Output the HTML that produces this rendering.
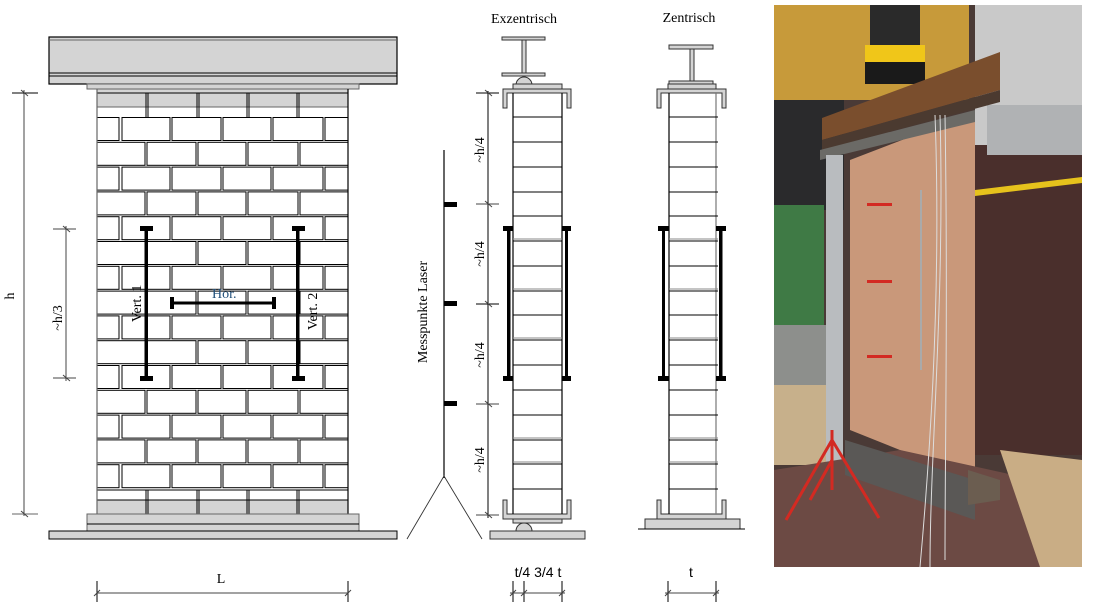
<!DOCTYPE html>
<html><head><meta charset="utf-8"><style>
html,body{margin:0;padding:0;background:#fff;}
svg{display:block;}
text{font-family:"Liberation Serif",serif;}
</style></head><body>
<svg width="1096" height="612" viewBox="0 0 1096 612" xmlns="http://www.w3.org/2000/svg">
<defs>
<g id="rowA" fill="#fff" stroke="#000" stroke-width="1">
<rect x="97" y="0.5" width="22" height="23"/><rect x="122" y="0.5" width="48" height="23"/><rect x="172" y="0.5" width="49" height="23"/><rect x="223" y="0.5" width="48" height="23"/><rect x="273" y="0.5" width="50" height="23"/><rect x="325" y="0.5" width="23" height="23"/>
</g>
<g id="rowB" fill="#fff" stroke="#000" stroke-width="1">
<rect x="97" y="0.5" width="48" height="23"/><rect x="147" y="0.5" width="49" height="23"/><rect x="198" y="0.5" width="48" height="23"/><rect x="248" y="0.5" width="50" height="23"/><rect x="300" y="0.5" width="48" height="23"/>
</g>
</defs>

<!-- LEFT WALL -->
<rect x="49" y="37" width="348" height="47" fill="#d4d4d4" stroke="#000" stroke-width="1.2"/>
<line x1="49" y1="40" x2="397" y2="40" stroke="#666"/>
<line x1="49" y1="73" x2="397" y2="73" stroke="#000"/>
<line x1="49" y1="76" x2="397" y2="76" stroke="#000"/>
<rect x="87" y="84" width="272" height="5" fill="#d4d4d4" stroke="#666"/>
<rect x="97" y="89" width="251" height="18" fill="#d4d4d4" stroke="#666"/>
<line x1="97" y1="93" x2="348" y2="93" stroke="#000"/>
<g stroke="#000"><line x1="146" y1="93" x2="146" y2="117"/><line x1="148" y1="93" x2="148" y2="117"/><line x1="197" y1="93" x2="197" y2="117"/><line x1="199" y1="93" x2="199" y2="117"/><line x1="247" y1="93" x2="247" y2="117"/><line x1="249" y1="93" x2="249" y2="117"/><line x1="297" y1="93" x2="297" y2="117"/><line x1="299" y1="93" x2="299" y2="117"/></g>

<use href="#rowA" y="117"/><use href="#rowB" y="141.8"/><use href="#rowA" y="166.6"/><use href="#rowB" y="191.4"/><use href="#rowA" y="216.2"/><use href="#rowB" y="241"/><use href="#rowA" y="265.8"/><use href="#rowB" y="290.6"/><use href="#rowA" y="315.4"/><use href="#rowB" y="340.2"/><use href="#rowA" y="365"/><use href="#rowB" y="389.8"/><use href="#rowA" y="414.6"/><use href="#rowB" y="439.4"/><use href="#rowA" y="464.2"/>

<rect x="97" y="490" width="251" height="10" fill="#fff" stroke="#000"/>
<rect x="97" y="500" width="251" height="14" fill="#d4d4d4" stroke="#666"/>
<line x1="97" y1="500" x2="348" y2="500" stroke="#000"/>
<g stroke="#000"><line x1="146" y1="490" x2="146" y2="514"/><line x1="148" y1="490" x2="148" y2="514"/><line x1="197" y1="490" x2="197" y2="514"/><line x1="199" y1="490" x2="199" y2="514"/><line x1="247" y1="490" x2="247" y2="514"/><line x1="249" y1="490" x2="249" y2="514"/><line x1="297" y1="490" x2="297" y2="514"/><line x1="299" y1="490" x2="299" y2="514"/></g>
<line x1="97" y1="89" x2="97" y2="514" stroke="#666" stroke-width="1.2"/>
<line x1="348" y1="89" x2="348" y2="514" stroke="#000" stroke-width="1.2"/>
<rect x="87" y="514" width="272" height="17" fill="#d4d4d4" stroke="#666"/>
<line x1="87" y1="524" x2="359" y2="524" stroke="#000"/>
<rect x="49" y="531" width="348" height="8" fill="#d4d4d4" stroke="#000"/>

<!-- sensors on wall -->
<g fill="#000">
<rect x="144.5" y="228" width="3.5" height="150"/><rect x="140" y="226" width="13" height="5"/><rect x="140" y="376" width="13" height="5"/>
<rect x="296" y="228" width="3.5" height="150"/><rect x="292" y="226" width="13" height="5"/><rect x="292" y="376" width="13" height="5"/>
<rect x="172" y="301.5" width="102" height="3"/><rect x="170" y="297" width="4" height="12"/><rect x="272" y="297" width="4" height="12"/>
</g>
<text x="212" y="298" font-size="14" fill="#1f4e79">Hor.</text>
<text transform="translate(141,322) rotate(-90)" font-size="14">Vert. 1</text>
<text transform="translate(317,330) rotate(-90)" font-size="14">Vert. 2</text>

<!-- dims left -->
<g stroke="#444" stroke-width="1">
<line x1="24" y1="90" x2="24" y2="516"/>
<line x1="12" y1="93" x2="38" y2="93" stroke="#000"/>
<line x1="12" y1="514" x2="38" y2="514" stroke="#666"/>
<line x1="21" y1="90" x2="28" y2="96"/><line x1="21" y1="511" x2="28" y2="517"/>
<line x1="66" y1="226" x2="66" y2="381"/>
<line x1="53" y1="229" x2="76" y2="229"/><line x1="53" y1="378" x2="76" y2="378"/>
<line x1="63" y1="226" x2="70" y2="232"/><line x1="63" y1="375" x2="70" y2="381"/>
<line x1="97" y1="581" x2="97" y2="602" stroke="#000"/><line x1="348" y1="581" x2="348" y2="602" stroke="#000"/>
<line x1="97" y1="593" x2="348" y2="593"/>
<line x1="94" y1="596" x2="100" y2="590"/><line x1="345" y1="596" x2="351" y2="590"/>
</g>
<text transform="translate(14,296) rotate(-90)" font-size="14" text-anchor="middle">h</text>
<text transform="translate(62,318) rotate(-90)" font-size="14" text-anchor="middle">~h/3</text>
<text x="221" y="583" font-size="14" text-anchor="middle">L</text>

<!-- LASER -->
<line x1="444" y1="150" x2="444" y2="478" stroke="#000" stroke-width="1.2"/>
<g fill="#000"><rect x="444" y="202" width="13" height="5"/><rect x="444" y="301" width="13" height="5"/><rect x="444" y="401" width="13" height="5"/></g>
<polyline points="407,539 444,476 482,539" fill="none" stroke="#333" stroke-width="0.9"/>
<text transform="translate(427,312) rotate(-90)" font-size="14" text-anchor="middle">Messpunkte Laser</text>

<!-- h/4 dims -->
<g stroke="#444">
<line x1="488" y1="91" x2="488" y2="518" stroke="#000"/>
<line x1="476" y1="93" x2="499" y2="93" stroke="#000"/><line x1="476" y1="204" x2="499" y2="204"/><line x1="476" y1="304" x2="499" y2="304" stroke="#000"/><line x1="476" y1="404" x2="499" y2="404"/><line x1="476" y1="515" x2="499" y2="515"/>
<line x1="485" y1="90" x2="492" y2="96"/><line x1="485" y1="201" x2="492" y2="207"/><line x1="485" y1="301" x2="492" y2="307"/><line x1="485" y1="401" x2="492" y2="407"/><line x1="485" y1="512" x2="492" y2="518"/>
</g>
<g font-size="14" text-anchor="middle">
<text transform="translate(484,150) rotate(-90)">~h/4</text>
<text transform="translate(484,254) rotate(-90)">~h/4</text>
<text transform="translate(484,355) rotate(-90)">~h/4</text>
<text transform="translate(484,460) rotate(-90)">~h/4</text>
</g>

<!-- EXZENTRISCH -->
<text x="524" y="23" font-size="14" text-anchor="middle">Exzentrisch</text>
<g fill="#d4d4d4" stroke="#333" stroke-width="1">
<rect x="502" y="37" width="43" height="3"/><rect x="522" y="40" width="4" height="33"/><rect x="502" y="73" width="43" height="3"/>
<path d="M516,85 A8,8 0 0 1 532,85 Z"/>
<rect x="513" y="84" width="49" height="5"/>
<path d="M503,89 H571 V108 H567 V93 H507 V108 H503 Z"/>
<path d="M503,500 H507 V514 H567 V500 H571 V519 H503 Z"/>
<rect x="513" y="519" width="49" height="4"/>
<path d="M516,531 A8,8 0 0 1 532,531 Z"/>
<rect x="490" y="531" width="95" height="8"/>
</g>
<line x1="513" y1="93" x2="513" y2="514" stroke="#000" stroke-width="1.2"/>
<line x1="562" y1="93" x2="562" y2="514" stroke="#000" stroke-width="1.2"/>
<g id="colrows" stroke="#000" stroke-width="1">
<line x1="513" y1="117" x2="562" y2="117"/><line x1="513" y1="142" x2="562" y2="142"/><line x1="513" y1="167" x2="562" y2="167"/><line x1="513" y1="192" x2="562" y2="192"/><line x1="513" y1="216" x2="562" y2="216"/><line x1="513" y1="241" x2="562" y2="241"/><line x1="513" y1="266" x2="562" y2="266"/><line x1="513" y1="291" x2="562" y2="291"/><line x1="513" y1="315" x2="562" y2="315"/><line x1="513" y1="340" x2="562" y2="340"/><line x1="513" y1="365" x2="562" y2="365"/><line x1="513" y1="390" x2="562" y2="390"/><line x1="513" y1="415" x2="562" y2="415"/><line x1="513" y1="440" x2="562" y2="440"/><line x1="513" y1="464" x2="562" y2="464"/><line x1="513" y1="489" x2="562" y2="489"/>
<g stroke="#888"><line x1="513" y1="239" x2="562" y2="239"/><line x1="513" y1="289" x2="562" y2="289"/><line x1="513" y1="338" x2="562" y2="338"/><line x1="513" y1="438" x2="562" y2="438"/><line x1="513" y1="462" x2="562" y2="462"/></g>
</g>
<g fill="#000">
<rect x="507" y="228" width="3.5" height="150"/><rect x="503" y="226" width="10" height="5"/><rect x="503" y="376" width="10" height="5"/>
<rect x="565" y="228" width="3" height="150"/><rect x="562" y="226" width="9" height="5"/><rect x="562" y="376" width="9" height="5"/>
</g>
<text x="538" y="577" font-size="14" text-anchor="middle" style="font-family:'Liberation Sans',sans-serif">t/4  3/4 t</text>
<g stroke="#444"><line x1="513" y1="581" x2="513" y2="602" stroke="#000"/><line x1="524" y1="581" x2="524" y2="602" stroke="#000"/><line x1="562" y1="581" x2="562" y2="602" stroke="#000"/><line x1="510" y1="593" x2="565" y2="593"/><line x1="510" y1="596" x2="516" y2="590"/><line x1="521" y1="596" x2="527" y2="590"/><line x1="559" y1="596" x2="565" y2="590"/></g>

<!-- ZENTRISCH -->
<text x="689" y="22" font-size="14" text-anchor="middle">Zentrisch</text>
<g fill="#d4d4d4" stroke="#333" stroke-width="1">
<rect x="669" y="45" width="44" height="4"/><rect x="690" y="49" width="4" height="32"/>
<rect x="669" y="81" width="44" height="3"/><rect x="668" y="84" width="48" height="5"/>
<path d="M657,89 H726 V108 H722 V93 H661 V108 H657 Z"/>
<path d="M657,500 H661 V514 H722 V500 H726 V519 H657 Z"/>
<rect x="645" y="519" width="95" height="10"/>
</g>
<line x1="638" y1="529" x2="745" y2="529" stroke="#000"/>
<line x1="669" y1="93" x2="669" y2="514" stroke="#000" stroke-width="1.2"/>
<line x1="716" y1="93" x2="716" y2="514" stroke="#777" stroke-width="1.2"/>
<use href="#colrows" transform="translate(156,0)"/>
<g fill="#000">
<rect x="662" y="228" width="3" height="150"/><rect x="658" y="226" width="11" height="5"/><rect x="658" y="376" width="11" height="5"/>
<rect x="719" y="228" width="3.5" height="150"/><rect x="716" y="226" width="10" height="5"/><rect x="716" y="376" width="10" height="5"/>
</g>
<text x="691" y="577" font-size="14" text-anchor="middle" style="font-family:'Liberation Sans',sans-serif">t</text>
<g stroke="#444"><line x1="668" y1="581" x2="668" y2="602" stroke="#000"/><line x1="716" y1="581" x2="716" y2="602" stroke="#000"/><line x1="665" y1="593" x2="719" y2="593"/><line x1="665" y1="596" x2="671" y2="590"/><line x1="713" y1="596" x2="719" y2="590"/></g>

<!-- PHOTO -->
<g>
<rect x="774" y="5" width="308" height="562" fill="#4a3a36"/>
<rect x="774" y="5" width="195" height="95" fill="#c79a3a"/>
<rect x="774" y="100" width="70" height="110" fill="#2a2a2c"/>
<rect x="774" y="205" width="50" height="120" fill="#3f7a45"/>
<rect x="774" y="325" width="55" height="60" fill="#8d8f8c"/>
<rect x="774" y="385" width="60" height="80" fill="#c7b08b"/>
<rect x="975" y="5" width="107" height="140" fill="#c9c9c9"/>
<rect x="975" y="145" width="107" height="310" fill="#4a2f2c"/>
<polygon points="975,190 1082,177 1082,183 975,196" fill="#e6c21c"/>
<rect x="987" y="105" width="95" height="50" fill="#b0b2b4"/>
<rect x="870" y="5" width="50" height="45" fill="#2a2a2a"/>
<rect x="865" y="45" width="60" height="20" fill="#f0c619"/>
<rect x="865" y="62" width="60" height="22" fill="#1a1a1a"/>
<polygon points="822,118 1000,52 1000,90 822,140" fill="#7a4e2d"/>
<polygon points="822,140 1000,90 1000,102 822,150" fill="#4b3a30"/>
<polygon points="850,160 975,112 975,480 850,430" fill="#c9987a"/>
<polygon points="820,150 975,110 975,122 820,160" fill="#6b6a66"/>
<rect x="826" y="155" width="17" height="375" fill="#b9bcbf"/>
<polygon points="774,470 900,450 1082,490 1082,567 774,567" fill="#6c4a44"/>
<polygon points="1000,450 1082,460 1082,567 1040,567" fill="#c9ad85"/>
<polygon points="845,440 975,480 975,520 845,475" fill="#5a5856"/>
<polygon points="968,470 1000,480 1000,500 968,505" fill="#6b5d50"/>
<g stroke="#d32a22" stroke-width="3" fill="none"><line x1="832" y1="430" x2="832" y2="490"/><line x1="832" y1="440" x2="786" y2="520"/><line x1="832" y1="440" x2="879" y2="518"/><line x1="832" y1="460" x2="810" y2="500"/></g>
<g fill="#d32a22"><rect x="867" y="203" width="25" height="3"/><rect x="867" y="280" width="25" height="3"/><rect x="867" y="355" width="25" height="3"/></g>
<g stroke="#ddd" stroke-width="1" fill="none"><path d="M935,115 C940,250 935,400 920,567"/><path d="M940,115 C945,300 930,450 930,567"/><path d="M945,115 C948,300 945,450 945,560"/></g>
<line x1="921" y1="190" x2="921" y2="370" stroke="#aaa" stroke-width="2"/>
</g>
</svg>
</body></html>
